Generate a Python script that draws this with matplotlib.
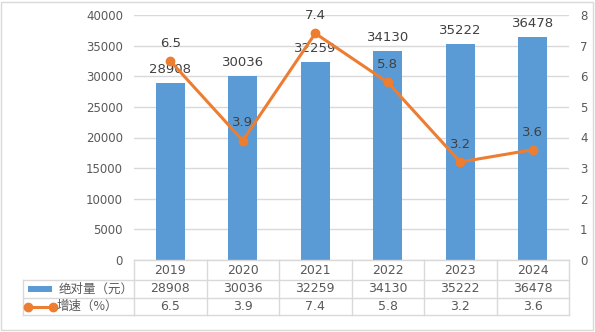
import matplotlib.pyplot as plt
from matplotlib.patches import Rectangle
from matplotlib.lines import Line2D

plt.rcParams['font.family'] = ['DejaVu Sans', 'Noto Sans CJK SC']

years = ['2019', '2020', '2021', '2022', '2023', '2024']
amount = [28908, 30036, 32259, 34130, 35222, 36478]
growth = [6.5, 3.9, 7.4, 5.8, 3.2, 3.6]
amount_name = '绝对量（元）'
growth_name = '增速（%）'

blue = '#5B9BD5'
orange = '#ED7D31'
gray_txt = '#595959'
grid_c = '#D9D9D9'

W, H = 595, 332
fig = plt.figure(figsize=(W / 100, H / 100), dpi=100)
fig.patch.set_facecolor('white')

# figure border
fig.add_artist(Rectangle((1 / W, 2 / H), (W - 3) / W, (H - 4) / H, transform=fig.transFigure,
                         fill=False, edgecolor=grid_c, linewidth=1))

left, right, top, bottom = 134, 569, 15, 260
ax = fig.add_axes([left / W, (H - bottom) / H, (right - left) / W, (bottom - top) / H])
x = list(range(len(years)))

ax.bar(x, amount, width=0.4, color=blue, zorder=2)
ax.set_xlim(-0.5, len(years) - 0.5)
ax.set_ylim(0, 40000)
ax.set_yticks(range(0, 40001, 5000))
ax.yaxis.grid(True, color=grid_c, linewidth=1)
ax.set_axisbelow(True)
ax.set_xticks([])
for s in ax.spines.values():
    s.set_visible(False)
ax.tick_params(axis='y', length=0, labelsize=8.5, labelcolor=gray_txt, pad=8)

for xi, v in zip(x, amount):
    ax.annotate(str(v), (xi, v), xytext=(0, 5), textcoords='offset points',
                ha='center', va='bottom', fontsize=9.5, color='#404040', zorder=5)

ax2 = ax.twinx()
ax2.plot(x, growth, color=orange, linewidth=2.2, marker='o', markersize=6, zorder=3)
ax2.set_ylim(0, 8)
ax2.set_yticks(range(0, 9))
for s in ax2.spines.values():
    s.set_visible(False)
ax2.tick_params(axis='y', length=0, labelsize=8.5, labelcolor=gray_txt, pad=8)
for xi, v in zip(x, growth):
    ax2.annotate(f'{v}', (xi, v), xytext=(0, 8), textcoords='offset points',
                 ha='center', va='bottom', fontsize=9.5, color='#404040', zorder=5)

# data table below the axes
tr = ax.get_xaxis_transform()
ph = bottom - top
def yf(py):
    return (bottom - py) / ph

rows_y = [260, 280, 298, 315]
lw = 1
for py in rows_y:
    ax.add_line(Line2D([-0.5, len(years) - 0.5], [yf(py)] * 2, transform=tr,
                       color=grid_c, linewidth=lw, clip_on=False))
for b in range(len(years) + 1):
    ax.add_line(Line2D([b - 0.5] * 2, [yf(260), yf(315)], transform=tr,
                       color=grid_c, linewidth=lw, clip_on=False))

# legend part of the table (figure pixel coords)
ft = fig.transFigure
def fx(px):
    return px / W
def fy(py):
    return (H - py) / H

for py in rows_y[1:]:
    fig.add_artist(Line2D([fx(23), fx(left)], [fy(py)] * 2, transform=ft, color=grid_c, linewidth=lw))
fig.add_artist(Line2D([fx(23)] * 2, [fy(280), fy(315)], transform=ft, color=grid_c, linewidth=lw))

fig.add_artist(Rectangle((fx(28), fy(292)), 24 / W, 6 / H, transform=ft, facecolor=blue, edgecolor='none'))
fig.text(fx(59), fy(289), amount_name, fontsize=9, color=gray_txt, va='center', ha='left',
         family=['Noto Sans CJK SC', 'DejaVu Sans'])
fig.add_artist(Line2D([fx(28), fx(53)], [fy(306.5)] * 2, transform=ft, color=orange,
                      linewidth=2.2, marker='o', markersize=6))
fig.text(fx(57), fy(306.5), growth_name, fontsize=9, color=gray_txt, va='center', ha='left',
         family=['Noto Sans CJK SC', 'DejaVu Sans'])

row_mid = [yf(270.5), yf(289), yf(306.5)]
for xi in x:
    ax.text(xi, row_mid[0], years[xi], transform=tr, ha='center', va='center', fontsize=9, color=gray_txt)
    ax.text(xi, row_mid[1], str(amount[xi]), transform=tr, ha='center', va='center', fontsize=9, color=gray_txt)
    ax.text(xi, row_mid[2], f'{growth[xi]}', transform=tr, ha='center', va='center', fontsize=9, color=gray_txt)

fig.savefig('out.png', dpi=100)
